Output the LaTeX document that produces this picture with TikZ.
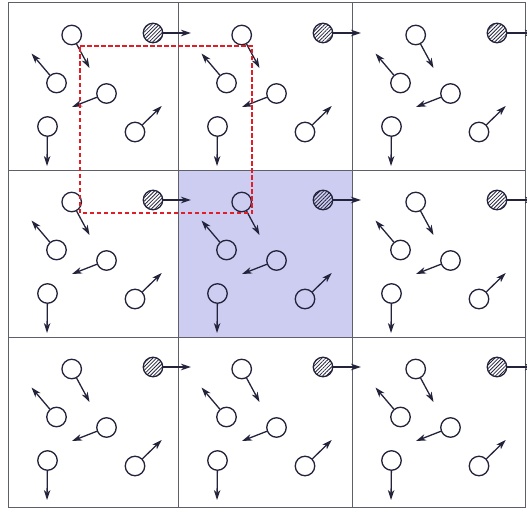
\documentclass[tikz,border=0pt]{standalone}
\usetikzlibrary{arrows.meta,patterns.meta}
\definecolor{ink}{RGB}{35,35,60}
\definecolor{gridgray}{RGB}{95,95,105}
\definecolor{cellfill}{RGB}{205,205,242}
\definecolor{boxred}{RGB}{225,30,40}
\begin{document}
\begin{tikzpicture}[
    x=1pt, y=-1pt,
    cell/.style={draw=gridgray, line width=1pt},
    particle/.style={circle, draw=ink, line width=1.3pt, minimum size=19.5pt, inner sep=0pt},
    tagged/.style={particle, pattern={Lines[angle=45, distance=2.6pt, line width=0.8pt]}, pattern color=ink},
    velocity/.style={draw=ink, line width=1.3pt, -{Stealth[length=10pt, width=6.5pt, inset=3pt]}},
    window/.style={draw=boxred, line width=2.3pt, dash pattern=on 4.5pt off 2.5pt}
]
\useasboundingbox (0,0) rectangle (527,511);

% central cell
\fill[cellfill] (178,170) rectangle (352,337);

% grid of periodic images
\foreach \x/\w in {8/178,178/352,352/525}
  \foreach \y/\h in {3/170,170/337,337/507}
    \draw[cell] (\x,\y) rectangle (\w,\h);

% particles, same in every cell
\foreach \x [count=\i] in {8,178,352}
  \foreach \y [count=\j] in {3,170,337} {
    \begin{scope}[shift={(\x,\y)}]
      \foreach \n/\px/\py/\vx/\vy in {a/63.7/32/81.5/65, b/48.5/80/23.5/50.5,
                                      c/98.5/90.5/64/104, d/39.5/123.5/39/163,
                                      e/127/129/153.7/103} {
        \node[particle] (p\i\j\n) at (\px,\py) {};
        \coordinate (v\i\j\n) at (\vx,\vy);
        \draw[velocity] (p\i\j\n) -- (v\i\j\n);
      }
      \node[tagged] (p\i\j f) at (145,30) {};
      \coordinate (v\i\j f) at (183,30);
      \draw[velocity] (p\i\j f) -- (v\i\j f);
    \end{scope}
  }

% cut-off window
\draw[window] (80,46) -- (252,46) -- (252,213) -- (80,213) -- cycle;

\end{tikzpicture}
\end{document}
